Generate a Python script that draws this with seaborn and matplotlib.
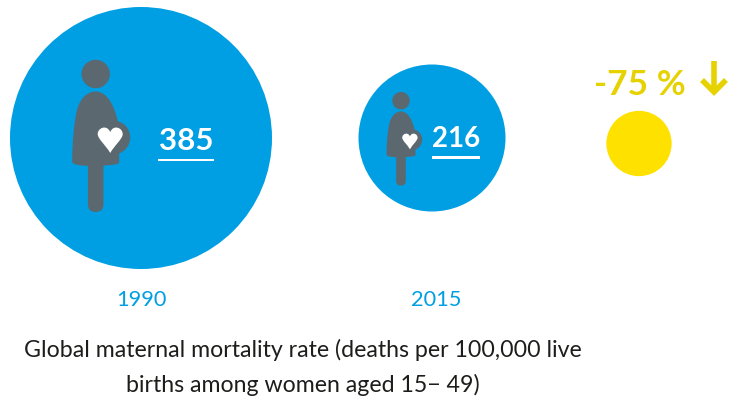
import matplotlib
matplotlib.use("Agg")
import matplotlib.pyplot as plt
import pandas as pd
import seaborn as sns
from matplotlib.patches import Circle, FancyBboxPatch, PathPatch, Rectangle
from matplotlib.path import Path

years = ["1990", "2015", "-75 %"]
rates = [385, 216, 96]
labels = ["385", "216"]
caption = ["Global maternal mortality rate (deaths per 100,000 live",
           "births among women aged 15\u2212 49)"]
center_x = [141, 432, 639]
center_y = [138, 138, 143.5]

BLUE, GREY, YELLOW, OCHRE, INK = "#009FE3", "#5B6870", "#FFE100", "#E6D200", "#1D1D1B"
PX_PER_RATE = 262 / 385
FONT = "Lato"

sns.set_theme(style="white")
plt.rcParams["font.family"] = FONT

fig = plt.figure(figsize=(7.42, 3.99), dpi=100)
ax = fig.add_axes([0, 0, 1, 1])

df = pd.DataFrame({"x": center_x, "y": center_y, "year": years, "rate": rates})
df["area"] = [(r * PX_PER_RATE * 0.72) ** 2 for r in rates]
sns.scatterplot(data=df, x="x", y="y", hue="year", palette=[BLUE, BLUE, YELLOW],
                s=df["area"].to_numpy(), linewidth=0, legend=False, ax=ax, zorder=1)
ax.set(xlim=(0, 742), ylim=(399, 0), xlabel="", ylabel="")
ax.set_axis_off()


def woman(hx, hy, k):
    """Pictogram of a pregnant woman, anchored on the head centre."""
    def pt(x, y):
        return (hx + k * x, hy + k * y)

    ax.add_patch(Circle(pt(0, 0), 14.2 * k, fc=GREY, ec="none", zorder=2))
    body = [(0, 17.5), (12, 17.5), (19, 33), (22, 47),
            (23, 62), (23.5, 76), (23.5, 88),
            (23.5, 90.5), (19, 91), (0, 92),
            (-19, 92), (-23.5, 90.5), (-23.5, 87),
            (-23.5, 72), (-22, 50), (-19, 37),
            (-16, 25), (-9, 17.5), (0, 17.5)]
    codes = [Path.MOVETO] + [Path.CURVE4] * 18
    ax.add_patch(PathPatch(Path([pt(*p) for p in body], codes), fc=GREY, ec="none", zorder=2))
    ax.add_patch(Circle(pt(17.5, 63.5), 17 * k, fc=GREY, ec="none", zorder=2))
    ax.add_patch(FancyBboxPatch(pt(-7.8, 85), 15.6 * k, 53 * k,
                                boxstyle=f"round,pad=0,rounding_size={7.8 * k}",
                                fc=GREY, ec="none", zorder=2))
    heart = [(14.5, 79), (10, 71), (2, 65), (2, 60),
             (2, 54), (11, 50), (14.5, 58),
             (18, 50), (27, 54), (27, 60),
             (27, 65), (19, 71), (14.5, 79)]
    hcodes = [Path.MOVETO] + [Path.CURVE4] * 12
    ax.add_patch(PathPatch(Path([pt(*p) for p in heart], hcodes), fc="white", ec="none", zorder=3))


woman(95.7, 74, 1.0)
woman(401, 100.7, 0.615)

for text, x, base, size, left, right, rule_y in zip(labels, [186, 456], [150, 147], [22.5, 20],
                                                    [158, 432], [214, 480], [160, 157.7]):
    ax.text(x, base, text, color="white", fontsize=size, fontweight="bold",
            ha="center", va="baseline", zorder=3)
    ax.add_patch(Rectangle((left, rule_y - 1.4), right - left, 2.8, fc="white", ec="none", zorder=3))

for i in (0, 1):
    ax.text(center_x[i] if i == 0 else 436, 306, years[i], color=BLUE, fontsize=15.7,
            ha="center", va="baseline")

ax.text(640, 95, years[2], color=OCHRE, fontsize=25.5, fontweight="bold", ha="center", va="baseline")
ax.plot([714, 714], [61, 91], color=OCHRE, lw=4, solid_capstyle="butt", zorder=3)
ax.plot([702, 714, 726], [80, 92, 80], color=OCHRE, lw=4, solid_joinstyle="miter",
        solid_capstyle="butt", zorder=3)

ax.text(303, 357, caption[0], color=INK, fontsize=16.7, ha="center", va="baseline")
ax.text(303, 392, caption[1], color=INK, fontsize=16.7, ha="center", va="baseline")

fig.savefig("out.png", dpi=100, facecolor="white")
